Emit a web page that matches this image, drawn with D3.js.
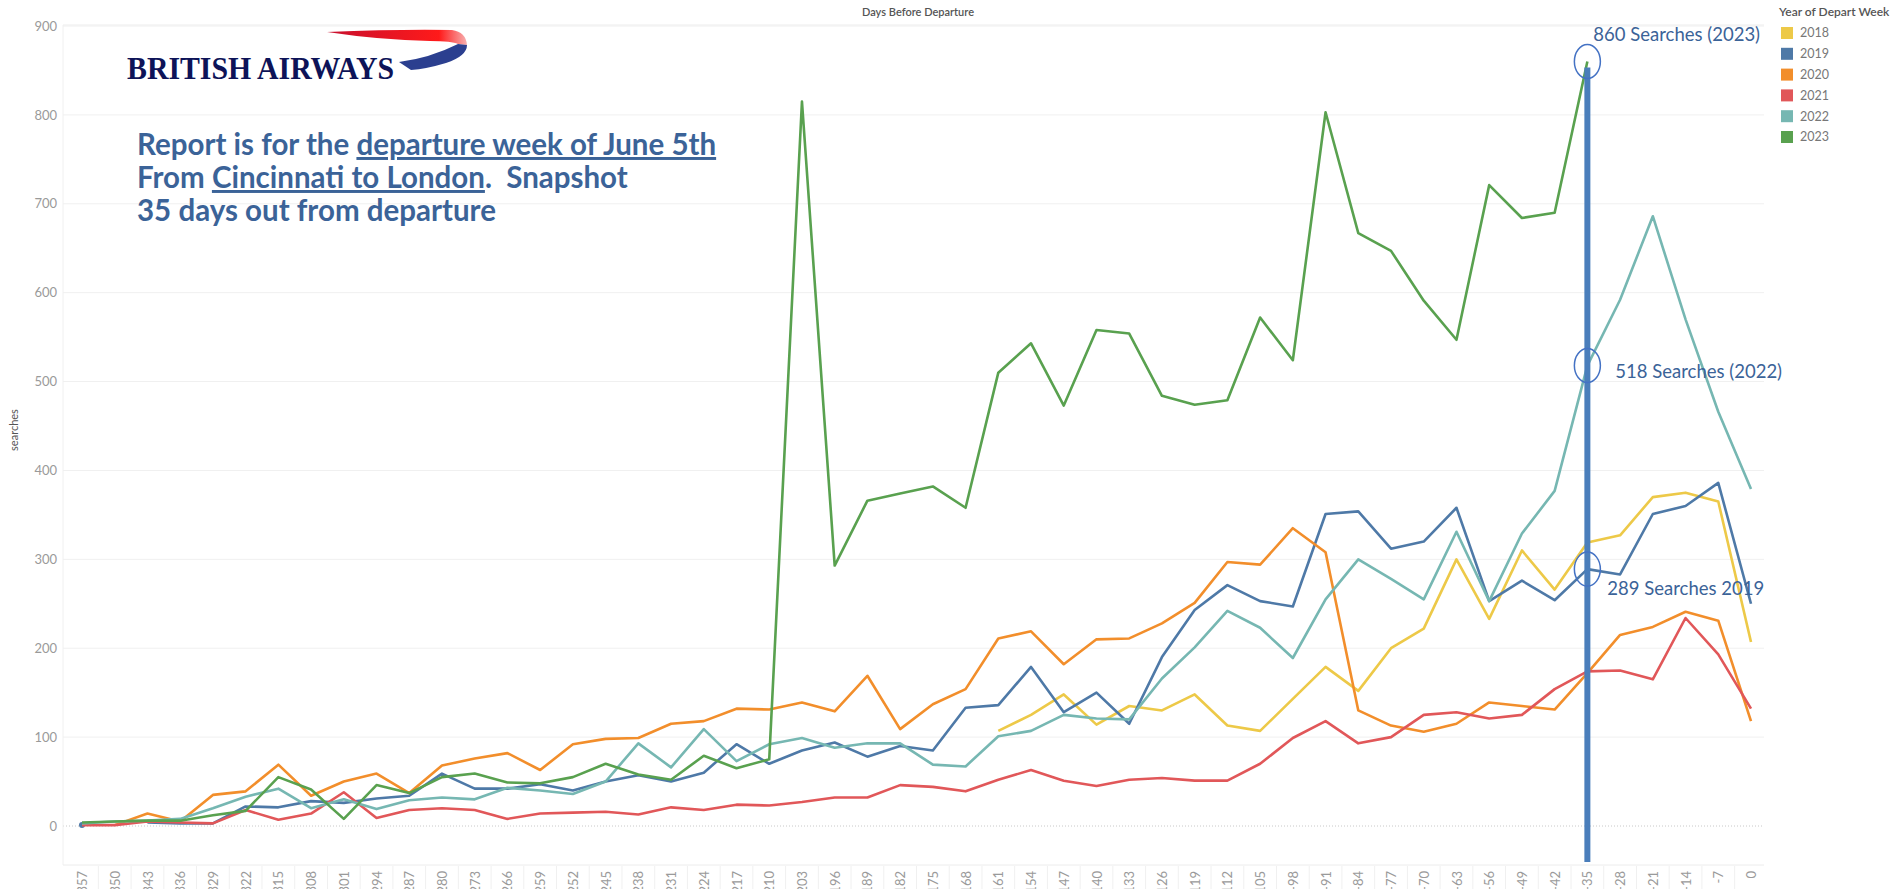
<!DOCTYPE html>
<html>
<head>
<meta charset="utf-8">
<script src="https://cdn.jsdelivr.net/npm/d3@7"></script>
<style>
  body { margin: 0; background: #fff; }
  #dashboard { width: 1901px; height: 889px; overflow: hidden; }
  .tick-label { font-family: Lato, "Open Sans", sans-serif; font-size: 12px; fill: #9a9a9a; }
  .note { font-family: Lato, "Open Sans", sans-serif; fill: #3b6398; white-space: pre; }
</style>
</head>
<body>
<div id="dashboard"></div>
<script>
var days = d3.range(-357, 1, 7);
var years = ["2018", "2019", "2020", "2021", "2022", "2023"];
var colors = ["#edc948", "#4e79a7", "#f28e2b", "#e15759", "#76b7b2", "#59a14f"];
var yTicks = [0, 100, 200, 300, 400, 500, 600, 700, 800, 900];

var s2018 = [null, null, null, null, null, null, null, null, null, null, null, null, null, null, null, null, null, null, null, null, null, null, null, null, null, null, null, null,
  107, 125, 148, 114, 135, 130, 148, 113, 107, 143, 179, 152, 200, 222, 300, 233, 310, 266, 319, 327, 370, 375, 365, 207];
var s2019 = [1, null, 4, 3, 3, 22, 21, 28, 26, 31, 34, 59, 42, 42, 47, 40, 50, 57, 50, 60, 92, 70, 85, 94, 78, 90, 85, 133,
  136, 179, 128, 150, 115, 190, 243, 271, 253, 247, 351, 354, 312, 320, 358, 253, 276, 254, 289, 283, 351, 360, 386, 250];
var s2020 = [null, 1, 14, 5, 35, 39, 69, 34, 50, 59, 37, 68, 76, 82, 63, 92, 98, 99, 115, 118, 132, 131, 139, 129, 169, 109, 137, 154,
  211, 219, 182, 210, 211, 228, 251, 297, 294, 335, 308, 130, 113, 106, 115, 139, 135, 131, 172, 215, 224, 241, 231, 118];
var s2021 = [1, 1, 5, 4, 3, 18, 7, 14, 38, 9, 18, 20, 18, 8, 14, 15, 16, 13, 21, 18, 24, 23, 27, 32, 32, 46, 44, 39,
  52, 63, 51, 45, 52, 54, 51, 51, 70, 99, 118, 93, 100, 125, 128, 121, 125, 154, 174, 175, 165, 234, 193, 132];
var s2022 = [3, 5, 6, 8, 20, 33, 42, 20, 30, 19, 29, 32, 30, 43, 40, 36, 50, 93, 66, 109, 73, 92, 99, 88, 93, 93, 69, 67,
  101, 107, 125, 121, 120, 166, 201, 242, 223, 189, 255, 300, 278, 255, 331, 253, 329, 377, 518, 592, 686, 570, 466, 379];
var s2023 = [4, 5, 6, 6, 12, 17, 55, 41, 8, 46, 37, 55, 59, 49, 48, 55, 70, 58, 52, 79, 65, 75, 815, 293, 366, 374, 382, 358,
  510, 543, 473, 558, 554, 484, 474, 479, 572, 524, 803, 667, 647, 591, 547, 721, 684, 690, 860, null, null, null, null, null];

var callouts = [
  {year: "2023", day: -35, value: 860, label: "860 Searches (2023)"},
  {year: "2022", day: -35, value: 518, label: "518 Searches (2022)"},
  {year: "2019", day: -35, value: 289, label: "289 Searches 2019"}
];

function dashboard(id) {
  var svg = d3.select(id).append("svg")
      .attr("width", 1901)
      .attr("height", 889)
      .style("font-family", "Lato, 'Open Sans', sans-serif");

  var xScale = d3.scaleLinear()
    .domain([-357, 0])
    .range([82, 1751]);

  var yScale = d3.scaleLinear()
    .domain([0, 900])
    .range([826, 26]);

  var series = [s2018, s2019, s2020, s2021, s2022, s2023].map(function(vals, k) {
    return {
      year: years[k],
      color: colors[k],
      points: days.map(function(d, i) { return {day: d, value: vals[i]}; })
    };
  });

  // header strip
  svg.append("line")
      .attr("x1", 63).attr("x2", 1764)
      .attr("y1", 25).attr("y2", 25)
      .attr("stroke", "#ececec");
  svg.append("text")
      .attr("x", 918).attr("y", 16)
      .attr("text-anchor", "middle")
      .attr("font-size", 11)
      .attr("font-weight", 600)
      .attr("fill", "#555")
      .text("Days Before Departure");

  // gridlines
  svg.append("g")
      .selectAll("line")
      .data(yTicks.slice(1))
    .enter().append("line")
      .attr("x1", 63).attr("x2", 1764)
      .attr("y1", function(d) { return yScale(d); })
      .attr("y2", function(d) { return yScale(d); })
      .attr("stroke", "#f0f0f0");

  svg.append("line")
      .attr("x1", 63).attr("x2", 1764)
      .attr("y1", yScale(0)).attr("y2", yScale(0))
      .attr("stroke", "#c8c8c8")
      .attr("stroke-dasharray", "1,2");

  svg.append("line")
      .attr("x1", 63).attr("x2", 63)
      .attr("y1", 25).attr("y2", 865)
      .attr("stroke", "#f0f0f0");
  svg.append("line")
      .attr("x1", 63).attr("x2", 1764)
      .attr("y1", 865).attr("y2", 865)
      .attr("stroke", "#ececec");

  // y axis
  var yAxis = svg.append("g")
      .attr("transform", "translate(57,0)")
      .call(d3.axisLeft(yScale).tickValues(yTicks).tickSize(0).tickPadding(0));
  yAxis.select(".domain").remove();
  yAxis.selectAll("text")
      .attr("class", "tick-label")
      .attr("font-size", null)
      .attr("fill", null)
      .style("font-size", "13px");

  svg.append("text")
      .attr("transform", "translate(18,430) rotate(-90)")
      .attr("text-anchor", "middle")
      .attr("font-size", 11)
      .attr("fill", "#555")
      .text("searches");

  // x axis
  var xAxis = svg.append("g")
      .attr("transform", "translate(0,871)")
      .call(d3.axisBottom(xScale).tickValues(days).tickSize(0).tickPadding(0).tickFormat(d3.format("d")));
  xAxis.select(".domain").remove();
  xAxis.selectAll("text")
      .attr("class", "tick-label")
      .attr("font-size", null)
      .attr("fill", null)
      .attr("y", 0)
      .attr("dy", "0.35em")
      .attr("transform", "rotate(-90)")
      .style("text-anchor", "end")
      .style("font-size", "13px")
      .text(function(d) { return d === 0 ? "0" : "-" + Math.abs(d); });

  svg.append("g")
      .selectAll("line")
      .data(days.slice(1))
    .enter().append("line")
      .attr("x1", function(d) { return xScale(d - 3.5); })
      .attr("x2", function(d) { return xScale(d - 3.5); })
      .attr("y1", 866).attr("y2", 889)
      .attr("stroke", "#f0f0f0");

  // lines
  var line = d3.line()
      .defined(function(d) { return d.value != null; })
      .x(function(d) { return xScale(d.day); })
      .y(function(d) { return yScale(d.value); });

  var lines = svg.append("g");
  series.forEach(function(s) {
    lines.append("path")
        .datum(s.points)
        .attr("class", "line")
        .attr("fill", "none")
        .attr("stroke", s.color)
        .attr("stroke-width", 2.6)
        .attr("stroke-linejoin", "round")
        .attr("d", line);

    var lone = s.points.filter(function(d, i) {
      var prev = s.points[i - 1], next = s.points[i + 1];
      return d.value != null && (!prev || prev.value == null) && (!next || next.value == null);
    });
    lines.selectAll(".dot-" + s.year)
        .data(lone)
      .enter().append("circle")
        .attr("cx", function(d) { return xScale(d.day); })
        .attr("cy", function(d) { return yScale(d.value); })
        .attr("r", 3)
        .attr("fill", s.color);
  });

  // snapshot marker
  svg.append("line")
      .attr("x1", xScale(-35)).attr("x2", xScale(-35))
      .attr("y1", yScale(860) + 6).attr("y2", 862)
      .attr("stroke", "#4a7ebb")
      .attr("stroke-width", 6);

  svg.selectAll(".ring")
      .data(callouts)
    .enter().append("ellipse")
      .attr("class", "ring")
      .attr("cx", function(d) { return xScale(d.day); })
      .attr("cy", function(d) { return yScale(d.value); })
      .attr("rx", 13)
      .attr("ry", 17)
      .attr("fill", "none")
      .attr("stroke", "#4472c4")
      .attr("stroke-width", 1.5);

  var offsets = {"2023": [6, -27], "2022": [28, 6], "2019": [20, 19]};
  svg.selectAll(".callout")
      .data(callouts)
    .enter().append("text")
      .attr("class", "callout note")
      .attr("x", function(d) { return xScale(d.day) + offsets[d.year][0]; })
      .attr("y", function(d) { return yScale(d.value) + offsets[d.year][1]; })
      .attr("dy", "0.35em")
      .attr("font-size", 18.5)
      .text(function(d) { return d.label; });

  // legend
  var legend = svg.append("g").attr("transform", "translate(1779,0)");
  legend.append("text")
      .attr("x", 0).attr("y", 16)
      .attr("font-size", 12)
      .attr("font-weight", 600)
      .attr("fill", "#555")
      .text("Year of Depart Week");
  var item = legend.selectAll(".item")
      .data(years)
    .enter().append("g")
      .attr("transform", function(d, i) { return "translate(2," + (33 + i * 20.8) + ")"; });
  item.append("rect")
      .attr("x", 0).attr("y", -6)
      .attr("width", 12).attr("height", 12)
      .attr("fill", function(d, i) { return colors[i]; });
  item.append("text")
      .attr("x", 19).attr("dy", "0.35em")
      .attr("font-size", 12.5)
      .attr("fill", "#777")
      .text(function(d) { return d; });

  // logo
  var logo = svg.append("g");
  logo.append("text")
      .attr("x", 127).attr("y", 79)
      .attr("font-family", "'Liberation Serif', 'DejaVu Serif', serif")
      .attr("font-size", 32)
      .attr("font-weight", 700)
      .attr("textLength", 267)
      .attr("lengthAdjust", "spacingAndGlyphs")
      .attr("fill", "#0d1358")
      .text("BRITISH AIRWAYS");
  var red = logo.append("linearGradient").attr("id", "redgrad");
  red.append("stop").attr("offset", "0%").attr("stop-color", "#c8102e");
  red.append("stop").attr("offset", "80%").attr("stop-color", "#ff1a1a");
  red.append("stop").attr("offset", "100%").attr("stop-color", "#f7b0b0");
  logo.append("path")
      .attr("d", "M327,32 Q400,29 452,30 Q466,32 467,45 L458,44 Q452,41 430,41 Q380,40 327,32 Z")
      .attr("fill", "url(#redgrad)");
  logo.append("path")
      .attr("d", "M467,45 Q467,56 446,63 Q426,69 411,70 L399,62 Q430,58 458,44 Z")
      .attr("fill", "#2b3f8f");

  // report note
  var note = svg.append("text")
      .attr("class", "note")
      .attr("x", 137)
      .attr("font-size", 29.5)
      .attr("font-weight", 700);
  var l1 = note.append("tspan").attr("x", 137).attr("y", 155);
  l1.append("tspan").text("Report is for the ");
  l1.append("tspan").attr("text-decoration", "underline").text("departure week of June 5th");
  var l2 = note.append("tspan").attr("x", 137).attr("y", 188);
  l2.append("tspan").text("From ");
  l2.append("tspan").attr("text-decoration", "underline").text("Cincinnati to London");
  l2.append("tspan").text(".  Snapshot");
  note.append("tspan").attr("x", 137).attr("y", 221).text("35 days out from departure");
}

dashboard("#dashboard");
</script>
</body>
</html>
